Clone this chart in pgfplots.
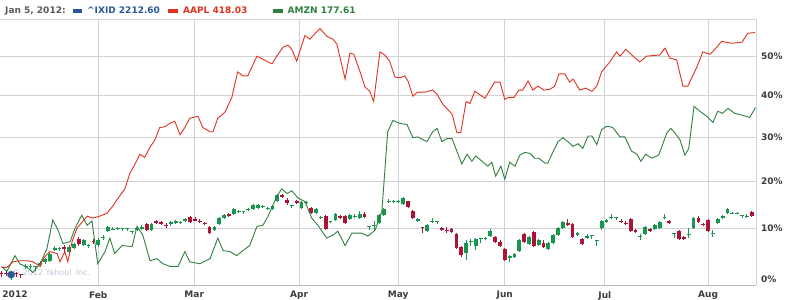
\documentclass[border=0pt]{standalone}
\usepackage{fontspec}
\setmainfont{DejaVu Sans}
\usepackage{pgfplots}
\pgfplotsset{compat=1.18}
\definecolor{aapl}{RGB}{224,50,30}
\definecolor{amzn}{RGB}{46,128,62}
\definecolor{cup}{RGB}{22,150,78}
\definecolor{cdown}{RGB}{172,20,55}
\definecolor{ixid}{RGB}{38,88,154}
\definecolor{gridc}{RGB}{210,210,210}
\definecolor{lbl}{RGB}{60,60,60}
\definecolor{legg}{RGB}{90,90,90}
\definecolor{wm}{RGB}{190,198,212}
\begin{document}
\begin{tikzpicture}[x=1pt,y=1pt,font=\fontsize{9}{11}\selectfont\bfseries]
\path[use as bounding box] (0,-15) rectangle (785,285);
\node[anchor=west, font=\fontsize{8}{9}\selectfont, text=wm, inner sep=0pt] at (12,12) {\textcopyright\ 2012 Yahoo! Inc.};
\begin{axis}[at={(0,0)}, anchor=south west, scale only axis, width=756pt, height=266pt,
 xmin=-0.3, xmax=155.9, ymin=-1.14, ymax=60,
 y coord trafo/.code={\pgfmathparse{ln(1+#1/133)}},
 y coord inv trafo/.code={\pgfmathparse{133*(exp(#1)-1)}},
 axis line style={draw=none},
 xtick={20,39.83,61.5,81.97,104,124.67,146},
 xticklabels={Feb,Mar,Apr,May,Jun,Jul,Aug},
 extra x ticks={2.8}, extra x tick labels={2012},
 extra x tick style={grid=none},
 ytick={10,20,30,40,50,60},
 yticklabels={10\%,20\%,30\%,40\%,50\%,{}},
 extra y ticks={0}, extra y tick labels={0\%},
 extra y tick style={grid=none},
 yticklabel pos=right,
 major tick length=0pt,
 grid=major, major grid style={gridc, line width=0.8pt},
 tick label style={font=\fontsize{9}{11}\selectfont\bfseries, text=lbl},
 yticklabel style={anchor=west, inner sep=0pt, xshift=5pt},
 xticklabel style={anchor=north, inner sep=0pt, yshift=-6pt},
 unbounded coords=jump,
]
% ^IXID candles: wicks
\addplot[cup, line width=0.9pt] coordinates {
(2,-0.2)(2,1.6)(nan,0) (5,1.8)(5,2.9)(nan,0) (6,1.8)(6,2.9)(nan,0) (7,1.6)(7,2.4)(nan,0) (8,2.2)(8,3.5)(nan,0) (9,2.9)(9,4.1)(nan,0) (10,3.3)(10,5.1)(nan,0) (11,5.5)(11,6.5)(nan,0) (12,5.5)(12,6.3)(nan,0) (14,4.9)(14,6.7)(nan,0) (15,5.9)(15,7.1)(nan,0) (17,6.5)(17,7.8)(nan,0) (18,6.1)(18,6.9)(nan,0) (20,6.3)(20,8.0)(nan,0) (21,7.6)(21,8.6)(nan,0) (22,9.2)(22,10.4)(nan,0) (23,9.6)(23,10.2)(nan,0) (24,9.6)(24,10.3)(nan,0) (25,9.4)(25,10.0)(nan,0) (26,9.4)(26,10.1)(nan,0) (27,8.8)(27,9.4)(nan,0) (28,9.5)(28,10.2)(nan,0) (29,9.7)(29,10.6)(nan,0) (31,9.4)(31,11.0)(nan,0) (35,10.4)(35,11.5)(nan,0) (36,10.8)(36,11.7)(nan,0) (37,10.9)(37,11.6)(nan,0) (38,11.2)(38,12.1)(nan,0) (44,9.4)(44,10.4)(nan,0) (45,10.6)(45,12.3)(nan,0) (46,11.9)(46,12.9)(nan,0) (48,12.7)(48,14.2)(nan,0) (49,13.1)(49,13.8)(nan,0) (50,13.0)(50,13.6)(nan,0) (51,13.5)(51,14.3)(nan,0) (52,13.8)(52,15.0)(nan,0) (53,14.0)(53,15.0)(nan,0) (54,14.2)(54,14.9)(nan,0) (55,13.8)(55,14.5)(nan,0) (56,13.8)(56,14.8)(nan,0) (57,15.4)(57,17.1)(nan,0) (60,14.2)(60,14.9)(nan,0) (62,14.0)(62,15.6)(nan,0) (63,15.0)(63,15.8)(nan,0) (65,12.9)(65,14.2)(nan,0) (66,12.0)(66,12.5)(nan,0) (68,11.0)(68,11.6)(nan,0) (69,11.5)(69,13.1)(nan,0) (72,11.7)(72,12.9)(nan,0) (73,12.1)(73,12.9)(nan,0) (74,11.9)(74,13.5)(nan,0) (76,9.6)(76,10.5)(nan,0) (77,9.6)(77,11.5)(nan,0) (78,10.8)(78,12.9)(nan,0) (79,12.5)(79,14.2)(nan,0) (80,15.2)(80,16.2)(nan,0) (81,15.2)(81,16.0)(nan,0) (82,15.2)(82,16.0)(nan,0) (83,14.8)(83,16.5)(nan,0) (86,11.3)(86,12.1)(nan,0) (88,9.2)(88,10.8)(nan,0) (89,11.1)(89,12.1)(nan,0) (90,10.8)(90,11.6)(nan,0) (96,3.7)(96,7.6)(nan,0) (97,6.5)(97,7.8)(nan,0) (98,5.7)(98,8.0)(nan,0) (99,7.1)(99,8.0)(nan,0) (100,7.6)(100,8.2)(nan,0) (101,8.2)(101,9.8)(nan,0) (105,3.3)(105,4.7)(nan,0) (106,4.1)(106,5.1)(nan,0) (107,5.3)(107,7.8)(nan,0) (109,6.7)(109,8.4)(nan,0) (111,6.5)(111,7.8)(nan,0) (113,5.7)(113,7.3)(nan,0) (114,6.9)(114,8.8)(nan,0) (115,8.4)(115,10.2)(nan,0) (116,9.8)(116,11.5)(nan,0) (119,8.4)(119,9.2)(nan,0) (121,7.8)(121,8.8)(nan,0) (122,7.8)(122,8.6)(nan,0) (123,6.5)(123,7.6)(nan,0) (124,9.6)(124,11.7)(nan,0) (125,11.1)(125,11.9)(nan,0) (126,11.9)(126,12.9)(nan,0) (127,11.7)(127,12.3)(nan,0) (132,7.6)(132,8.8)(nan,0) (133,8.6)(133,10.4)(nan,0) (135,9.6)(135,10.8)(nan,0) (136,9.8)(136,11.5)(nan,0) (137,11.9)(137,12.9)(nan,0) (139,8.0)(139,9.0)(nan,0) (142,8.0)(142,10.0)(nan,0) (143,9.8)(143,12.3)(nan,0) (147,8.2)(147,9.6)(nan,0) (148,10.8)(148,12.1)(nan,0) (149,11.9)(149,12.7)(nan,0) (150,12.9)(150,14.2)(nan,0) (151,12.9)(151,13.3)(nan,0) (152,12.9)(152,13.3)(nan,0) (153,12.1)(153,12.8)(nan,0) (154,12.1)(154,12.9)
};
\addplot[cdown, line width=0.9pt] coordinates {
(0,0.4)(0,1.6)(nan,0) (1,0.6)(1,1.6)(nan,0) (3,0.4)(3,1.4)(nan,0) (4,0.2)(4,1.0)(nan,0) (13,5.1)(13,6.7)(nan,0) (16,6.5)(16,8.2)(nan,0) (19,6.9)(19,7.8)(nan,0) (30,9.4)(30,11.0)(nan,0) (32,10.8)(32,11.7)(nan,0) (33,10.6)(33,11.5)(nan,0) (34,10.0)(34,11.0)(nan,0) (39,11.1)(39,12.5)(nan,0) (40,11.4)(40,12.3)(nan,0) (41,11.0)(41,11.9)(nan,0) (42,10.6)(42,11.3)(nan,0) (43,8.8)(43,10.4)(nan,0) (47,12.3)(47,13.1)(nan,0) (58,16.3)(58,17.3)(nan,0) (59,14.8)(59,16.3)(nan,0) (61,15.0)(61,16.0)(nan,0) (64,12.9)(64,14.4)(nan,0) (67,9.6)(67,12.7)(nan,0) (70,11.9)(70,12.7)(nan,0) (71,10.8)(71,12.7)(nan,0) (75,12.1)(75,13.3)(nan,0) (84,14.2)(84,15.8)(nan,0) (85,11.9)(85,13.8)(nan,0) (87,9.0)(87,10.3)(nan,0) (91,9.4)(91,10.2)(nan,0) (92,9.0)(92,10.2)(nan,0) (93,9.0)(93,10.0)(nan,0) (94,5.9)(94,9.0)(nan,0) (95,4.3)(95,6.5)(nan,0) (102,7.1)(102,8.4)(nan,0) (103,6.3)(103,7.6)(nan,0) (104,3.5)(104,6.1)(nan,0) (108,7.1)(108,9.0)(nan,0) (110,6.3)(110,9.4)(nan,0) (112,6.1)(112,7.6)(nan,0) (117,10.4)(117,11.9)(nan,0) (118,8.0)(118,11.0)(nan,0) (120,6.7)(120,8.0)(nan,0) (128,11.1)(128,11.9)(nan,0) (129,10.6)(129,11.5)(nan,0) (130,9.2)(130,12.1)(nan,0) (131,9.0)(131,9.8)(nan,0) (134,9.2)(134,10.0)(nan,0) (138,10.8)(138,11.7)(nan,0) (140,7.6)(140,9.6)(nan,0) (141,7.6)(141,8.4)(nan,0) (144,11.1)(144,12.5)(nan,0) (145,10.4)(145,11.1)(nan,0) (146,9.2)(146,11.9)(nan,0) (155,12.3)(155,13.5)
};
% ^IXID candles: bodies
\addplot[cup, line width=3.8pt] coordinates {
(2,0.4)(2,1.2)(nan,0) (5,2.2)(5,2.4)(nan,0) (6,2.2)(6,2.5)(nan,0) (7,2.3)(7,2.5)(nan,0) (8,2.7)(8,3.1)(nan,0) (9,3.3)(9,3.9)(nan,0) (10,3.5)(10,4.9)(nan,0) (11,5.7)(11,6.1)(nan,0) (12,5.8)(12,6.0)(nan,0) (14,5.3)(14,6.3)(nan,0) (15,6.1)(15,6.9)(nan,0) (17,6.7)(17,7.6)(nan,0) (18,6.4)(18,6.6)(nan,0) (20,6.7)(20,7.7)(nan,0) (21,8.0)(21,8.2)(nan,0) (22,9.4)(22,10.2)(nan,0) (23,9.7)(23,9.9)(nan,0) (24,9.8)(24,10.0)(nan,0) (25,9.8)(25,10.0)(nan,0) (26,9.8)(26,10.0)(nan,0) (27,9.2)(27,9.4)(nan,0) (28,9.7)(28,10.0)(nan,0) (29,9.9)(29,10.3)(nan,0) (31,9.7)(31,10.8)(nan,0) (35,10.9)(35,11.2)(nan,0) (36,11.1)(36,11.4)(nan,0) (37,11.1)(37,11.3)(nan,0) (38,11.5)(38,11.9)(nan,0) (44,9.6)(44,10.2)(nan,0) (45,10.8)(45,12.1)(nan,0) (46,12.1)(46,12.7)(nan,0) (48,12.9)(48,14.0)(nan,0) (49,13.4)(49,13.6)(nan,0) (50,13.4)(50,13.6)(nan,0) (51,13.7)(51,14.0)(nan,0) (52,14.0)(52,14.8)(nan,0) (53,14.2)(53,14.8)(nan,0) (54,14.5)(54,14.7)(nan,0) (55,14.1)(55,14.3)(nan,0) (56,14.0)(56,14.6)(nan,0) (57,15.6)(57,16.9)(nan,0) (60,14.7)(60,14.9)(nan,0) (62,14.2)(62,15.4)(nan,0) (63,15.3)(63,15.5)(nan,0) (65,13.1)(65,14.0)(nan,0) (66,12.2)(66,12.4)(nan,0) (68,11.2)(68,11.4)(nan,0) (69,11.7)(69,12.9)(nan,0) (72,11.9)(72,12.7)(nan,0) (73,12.4)(73,12.6)(nan,0) (74,12.1)(74,12.9)(nan,0) (76,10.3)(76,10.5)(nan,0) (77,10.4)(77,10.6)(nan,0) (78,11.0)(78,12.7)(nan,0) (79,12.7)(79,14.0)(nan,0) (80,15.5)(80,15.7)(nan,0) (81,15.5)(81,15.7)(nan,0) (82,15.4)(82,15.8)(nan,0) (83,15.0)(83,16.3)(nan,0) (86,11.5)(86,11.9)(nan,0) (88,9.4)(88,10.6)(nan,0) (89,11.4)(89,11.6)(nan,0) (90,11.4)(90,11.6)(nan,0) (96,5.1)(96,7.1)(nan,0) (97,7.2)(97,7.4)(nan,0) (98,6.5)(98,7.8)(nan,0) (99,7.8)(99,8.0)(nan,0) (100,7.8)(100,8.0)(nan,0) (101,8.4)(101,9.4)(nan,0) (105,4.1)(105,4.5)(nan,0) (106,4.3)(106,4.9)(nan,0) (107,5.5)(107,7.6)(nan,0) (109,6.9)(109,8.2)(nan,0) (111,6.7)(111,7.6)(nan,0) (113,5.9)(113,7.1)(nan,0) (114,7.1)(114,8.6)(nan,0) (115,8.6)(115,10.0)(nan,0) (116,10.0)(116,11.3)(nan,0) (119,8.6)(119,9.0)(nan,0) (121,8.0)(121,8.4)(nan,0) (122,8.4)(122,8.6)(nan,0) (123,7.4)(123,7.6)(nan,0) (124,10.0)(124,11.5)(nan,0) (125,11.3)(125,11.7)(nan,0) (126,12.2)(126,12.4)(nan,0) (127,12.1)(127,12.3)(nan,0) (132,8.3)(132,8.5)(nan,0) (133,8.8)(133,10.2)(nan,0) (135,9.8)(135,10.6)(nan,0) (136,10.0)(136,11.3)(nan,0) (137,12.2)(137,12.4)(nan,0) (139,8.8)(139,9.0)(nan,0) (142,8.6)(142,8.8)(nan,0) (143,10.0)(143,12.1)(nan,0) (147,8.9)(147,9.1)(nan,0) (148,11.0)(148,11.9)(nan,0) (149,12.1)(149,12.5)(nan,0) (150,13.1)(150,14.0)(nan,0) (151,13.0)(151,13.2)(nan,0) (152,13.0)(152,13.2)(nan,0) (153,12.6)(153,12.8)(nan,0) (154,12.3)(154,12.5)
};
\addplot[cdown, line width=3.8pt] coordinates {
(0,1.2)(0,0.9)(nan,0) (1,1.2)(1,1.0)(nan,0) (3,1.2)(3,1.0)(nan,0) (4,1.0)(4,0.8)(nan,0) (13,6.2)(13,5.9)(nan,0) (16,7.8)(16,6.9)(nan,0) (19,7.4)(19,7.2)(nan,0) (30,10.8)(30,9.6)(nan,0) (32,11.4)(32,11.1)(nan,0) (33,11.2)(33,10.9)(nan,0) (34,10.7)(34,10.5)(nan,0) (39,12.3)(39,11.3)(nan,0) (40,11.9)(40,11.6)(nan,0) (41,11.6)(41,11.4)(nan,0) (42,11.1)(42,10.9)(nan,0) (43,10.2)(43,9.0)(nan,0) (47,12.9)(47,12.5)(nan,0) (58,16.9)(58,16.6)(nan,0) (59,16.0)(59,15.2)(nan,0) (61,15.8)(61,15.2)(nan,0) (64,14.2)(64,13.1)(nan,0) (67,12.5)(67,9.8)(nan,0) (70,12.5)(70,12.1)(nan,0) (71,12.5)(71,11.0)(nan,0) (75,12.9)(75,12.3)(nan,0) (84,15.6)(84,14.4)(nan,0) (85,13.5)(85,12.1)(nan,0) (87,10.3)(87,10.1)(nan,0) (91,10.0)(91,9.6)(nan,0) (92,9.7)(92,9.5)(nan,0) (93,9.8)(93,9.2)(nan,0) (94,8.8)(94,6.1)(nan,0) (95,6.3)(95,4.7)(nan,0) (102,8.2)(102,7.3)(nan,0) (103,7.3)(103,6.5)(nan,0) (104,5.9)(104,3.7)(nan,0) (108,8.8)(108,7.3)(nan,0) (110,9.2)(110,6.5)(nan,0) (112,7.1)(112,6.3)(nan,0) (117,11.0)(117,10.7)(nan,0) (118,10.8)(118,8.2)(nan,0) (120,7.8)(120,6.9)(nan,0) (128,11.6)(128,11.4)(nan,0) (129,11.1)(129,10.9)(nan,0) (130,11.9)(130,9.4)(nan,0) (131,9.6)(131,9.2)(nan,0) (134,9.8)(134,9.4)(nan,0) (138,11.5)(138,11.0)(nan,0) (140,9.4)(140,7.8)(nan,0) (141,8.2)(141,7.8)(nan,0) (144,12.1)(144,11.3)(nan,0) (145,10.9)(145,10.6)(nan,0) (146,11.7)(146,9.4)(nan,0) (155,13.3)(155,12.5)
};
% AMZN
\addplot[amzn, line width=0.9pt] coordinates {
(0.0,2.4) (1.1,1.4) (2.8,4.5) (3.8,2.9) (5.3,2.2) (6.5,1.2) (8.0,2.9) (9.4,5.9) (10.6,11.7) (11.7,9.6) (12.7,6.9) (14.2,7.3) (15.2,10.0) (16.6,12.7) (17.7,10.6) (18.7,11.5) (19.9,2.9) (21.4,5.3) (22.4,8.0) (23.4,4.9) (24.9,6.5) (27.0,6.3) (28.0,10.4) (29.2,8.6) (30.7,3.5) (32.1,3.9) (33.4,2.9) (34.8,2.4) (36.5,2.4) (37.9,5.3) (38.9,3.3) (41.0,2.9) (43.1,3.9) (44.7,8.0) (45.8,5.5) (47.2,5.3) (48.6,4.5) (49.9,5.5) (51.3,6.5) (52.8,10.4) (54.0,10.6) (55.1,12.5) (56.9,16.7) (57.9,18.3) (59.0,17.3) (60.0,17.9) (61.3,16.3) (62.7,15.6) (64.1,12.1) (65.4,10.6) (67.2,8.0) (68.5,8.6) (69.5,9.4) (71.0,6.5) (72.4,9.0) (74.5,9.0) (75.7,8.4) (77.2,9.6) (78.6,13.5) (79.8,31.2) (80.9,33.9) (82.3,33.2) (83.8,32.9) (85.0,29.8) (86.0,30.0) (87.9,28.9) (89.1,31.2) (90.0,32.0) (91.0,28.9) (92.0,29.6) (93.1,29.6) (94.1,26.7) (95.1,23.8) (96.2,26.0) (97.2,24.4) (98.0,25.6) (99.3,24.4) (100.5,23.3) (101.3,24.2) (102.1,21.1) (103.2,23.3) (104.0,20.4) (105.0,24.2) (106.1,23.3) (107.1,25.8) (108.1,26.4) (109.2,26.2) (110.2,25.1) (111.0,25.1) (112.3,24.0) (112.9,24.0) (113.9,26.4) (115.0,28.9) (116.0,29.8) (117.0,28.9) (118.1,27.8) (119.1,28.4) (120.1,27.3) (121.2,30.2) (122.0,30.2) (123.0,28.2) (124.0,31.7) (124.9,32.4) (125.7,32.4) (126.3,32.2) (127.8,30.0) (128.8,30.0) (130.2,26.7) (131.3,26.0) (132.1,24.4) (133.1,26.0) (134.4,25.1) (135.8,25.8) (137.5,31.0) (138.3,32.0) (139.1,31.0) (140.2,29.3) (141.2,25.8) (142.0,27.3) (143.1,37.3) (144.3,36.1) (145.7,34.9) (147.0,33.4) (148.0,36.1) (149.0,35.6) (150.1,36.8) (151.5,35.6) (153.2,35.1) (154.6,34.6) (155.8,37.0)
};
% AAPL
\addplot[aapl, line width=0.9pt] coordinates {
(0.1,2.2) (1.1,2.2) (2.4,3.3) (3.8,3.5) (5.3,3.5) (6.5,3.3) (8.0,2.4) (8.6,3.9) (10.0,5.3) (11.5,4.9) (12.1,3.3) (13.1,5.3) (13.7,3.3) (14.6,7.3) (15.6,10.0) (17.7,12.5) (18.9,12.1) (20.3,12.5) (21.8,13.1) (23.0,14.6) (24.1,16.3) (25.5,18.3) (26.5,21.6) (27.6,23.8) (28.6,26.0) (29.6,25.3) (30.7,27.6) (31.7,29.3) (32.7,32.2) (33.8,32.4) (34.8,33.2) (35.8,33.7) (36.9,30.5) (37.9,32.2) (38.9,34.4) (40.6,34.9) (41.6,32.2) (43.1,31.2) (43.7,31.2) (44.7,34.4) (46.2,35.9) (47.6,39.5) (48.8,45.9) (49.9,44.9) (50.9,44.9) (52.8,50.0) (54.0,49.2) (55.9,48.0) (56.9,50.0) (58.2,52.4) (59.2,52.9) (60.0,51.8) (61.0,48.7) (62.7,55.5) (63.7,54.5) (65.8,57.4) (67.2,55.3) (68.5,54.5) (69.3,53.2) (71.0,44.1) (72.0,50.8) (72.8,50.5) (74.1,45.9) (75.1,42.1) (76.1,41.0) (76.9,38.5) (78.2,51.1) (79.2,50.3) (80.2,48.7) (81.3,44.6) (82.3,44.4) (83.3,44.9) (84.0,43.6) (85.0,39.8) (86.0,40.8) (87.5,40.8) (89.1,41.3) (90.0,40.3) (91.2,37.8) (93.1,35.4) (94.1,31.0) (94.9,31.0) (96.0,38.5) (96.8,38.0) (97.8,41.0) (99.9,39.3) (101.9,43.3) (103.0,43.3) (104.0,39.0) (104.8,39.5) (105.9,39.5) (106.9,41.3) (107.7,41.3) (108.8,43.6) (109.8,41.3) (110.8,42.3) (112.1,41.3) (113.3,41.5) (114.3,42.3) (115.2,45.4) (116.4,45.4) (117.4,43.3) (118.1,44.1) (119.5,41.3) (120.7,41.8) (122.0,41.0) (123.0,42.3) (124.0,45.9) (125.7,48.5) (127.1,51.1) (127.8,50.0) (129.0,51.8) (130.5,50.0) (131.9,48.5) (133.3,50.0) (136.0,50.3) (137.1,52.1) (138.1,49.5) (139.5,49.0) (140.8,42.3) (141.8,42.3) (143.7,47.2) (144.9,51.1) (146.4,50.5) (147.4,51.8) (148.8,53.9) (150.9,53.4) (153.0,53.7) (154.2,56.1) (155.7,56.3)
};
% hover marker on ^IXID, Jan 5
\addplot[only marks, mark=*, mark size=3.8pt, mark options={fill=ixid, draw=ixid!60}] coordinates {(2,0.8)};
\end{axis}
\draw[gray!55, line width=0.8pt] (0,0) -- (756,0);
\draw[gridc, line width=0.8pt] (756,0) -- (756,266);
% header legend
\node[anchor=base west, inner sep=0pt, text=legg] at (5,271) {Jan 5, 2012:};
\fill[ixid] (72.7,272.3) rectangle (81.7,276);
\node[anchor=base west, inner sep=0pt, text=ixid] at (87,271) {\textasciicircum IXID 2212.60};
\fill[aapl] (168,272.3) rectangle (177.5,276);
\node[anchor=base west, inner sep=0pt, text=aapl] at (183,271) {AAPL 418.03};
\fill[amzn] (273,272.3) rectangle (283,276);
\node[anchor=base west, inner sep=0pt, text=amzn] at (287.5,271) {AMZN 177.61};
\end{tikzpicture}
\end{document}
